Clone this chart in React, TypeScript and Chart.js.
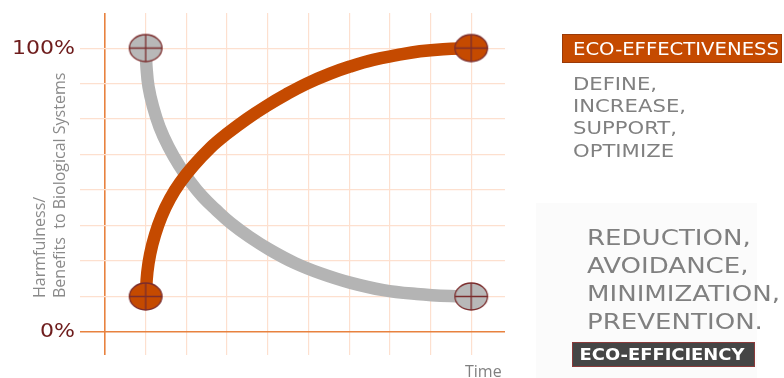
import { useEffect, useRef } from "react";
import { Chart, registerables } from "chart.js";

Chart.register(...registerables);

// Grid positions along the time axis and the level axis
const timeSteps = [0, 1, 2, 3, 4, 5, 6, 7, 8, 9];
const levelSteps = [0, 1, 2, 3, 4, 5, 6, 7, 8];

// Level labels on the vertical axis
const levelLabelValues = [8, 0];
const levelLabelTexts = ["100%", "0%"];

// Eco-effectiveness curve (rising)
const effectivenessX = [1, 1.04, 1.11, 1.23, 1.39, 1.6, 1.84, 2.17, 2.58, 2.99, 3.48, 3.97, 4.46, 4.96, 5.53, 6.02, 6.59, 7.17, 7.74, 8.31, 9];
const effectivenessY = [1, 1.68, 2.2, 2.74, 3.26, 3.76, 4.2, 4.68, 5.18, 5.58, 6.0, 6.37, 6.7, 7.0, 7.28, 7.48, 7.67, 7.8, 7.91, 7.97, 8];

// Eco-efficiency curve (falling)
const efficiencyX = [1, 1.02, 1.07, 1.18, 1.34, 1.56, 1.82, 2.1, 2.4, 2.73, 3.1, 3.55, 4.06, 4.67, 5.3, 6.02, 6.84, 7.66, 8.48, 9];
const efficiencyY = [8, 7.47, 6.91, 6.35, 5.78, 5.22, 4.7, 4.23, 3.81, 3.44, 3.06, 2.68, 2.31, 1.94, 1.65, 1.39, 1.18, 1.07, 1.01, 1];

// End points of each curve
const effectivenessEndX = [1, 9];
const effectivenessEndY = [1, 8];
const efficiencyEndX = [1, 9];
const efficiencyEndY = [8, 1];

// Text
const axisTitleLines = ["Harmfulness/", "Benefits  to Biological Systems"];
const timeTitle = "Time";
const effectivenessTitle = "ECO-EFFECTIVENESS";
const effectivenessVerbs = ["DEFINE,", "INCREASE,", "SUPPORT,", "OPTIMIZE"];
const efficiencyVerbs = ["REDUCTION,", "AVOIDANCE,", "MINIMIZATION,", "PREVENTION."];
const efficiencyTitle = "ECO-EFFICIENCY";

const ORANGE = "#c54a00";
const GREY = "#b4b4b4";
const MARKER_EDGE = "#7b2d2d";
const AXIS = "#e8823f";
const GRID = "#fde0cf";
const TEXT_GREY = "#808080";

function makeMarker(fill: string): HTMLCanvasElement {
  const c = document.createElement("canvas");
  c.width = 36;
  c.height = 31;
  const g = c.getContext("2d")!;
  const cx = 18;
  const cy = 15.5;
  g.beginPath();
  g.ellipse(cx, cy, 16.3, 13.5, 0, 0, Math.PI * 2);
  g.fillStyle = fill;
  g.fill();
  g.lineWidth = 1.3;
  g.strokeStyle = MARKER_EDGE;
  g.stroke();
  g.beginPath();
  g.moveTo(cx - 16.3, cy);
  g.lineTo(cx + 16.3, cy);
  g.moveTo(cx, cy - 13.5);
  g.lineTo(cx, cy + 13.5);
  g.stroke();
  return c;
}

function drawScaled(
  ctx: CanvasRenderingContext2D,
  text: string,
  x: number,
  baseline: number,
  sx: number,
  align: CanvasTextAlign = "left"
) {
  ctx.save();
  ctx.translate(x, baseline);
  ctx.scale(sx, 1);
  ctx.textAlign = align;
  ctx.textBaseline = "alphabetic";
  ctx.fillText(text, 0, 0);
  ctx.restore();
}

const panelPlugin = {
  id: "panel",
  beforeDraw(chart: any) {
    const ctx = chart.ctx as CanvasRenderingContext2D;
    ctx.save();
    ctx.fillStyle = "#fbfbfb";
    ctx.fillRect(536, 203, 221, 175);
    ctx.restore();
  },
};

const textPlugin = {
  id: "texts",
  afterDraw(chart: any) {
    const ctx = chart.ctx as CanvasRenderingContext2D;
    const yScale = chart.scales.y;
    const area = chart.chartArea;
    ctx.save();

    // level labels
    ctx.fillStyle = "#6e1c1c";
    ctx.font = "19px 'DejaVu Sans'";
    const lvlScale = 63 / ctx.measureText(levelLabelTexts[0]).width;
    levelLabelValues.forEach((v, i) => {
      drawScaled(ctx, levelLabelTexts[i], area.left - 5, yScale.getPixelForValue(v) + 5.5, lvlScale, "right");
    });

    // vertical axis title
    ctx.fillStyle = "#8a8a8a";
    ctx.font = "16px 'Open Sans'";
    const baselines = [45, 65];
    axisTitleLines.forEach((line, i) => {
      ctx.save();
      ctx.translate(baselines[i], 298);
      ctx.rotate(-Math.PI / 2);
      ctx.textAlign = "left";
      ctx.textBaseline = "alphabetic";
      ctx.fillText(line, 0, 0);
      ctx.restore();
    });

    // time title
    ctx.fillStyle = TEXT_GREY;
    ctx.font = "16px 'Open Sans'";
    ctx.textAlign = "left";
    ctx.fillText(timeTitle, 465, 377);

    // eco-effectiveness header
    ctx.fillStyle = ORANGE;
    ctx.fillRect(562, 34, 220, 29);
    ctx.strokeStyle = "#9a3a08";
    ctx.lineWidth = 1;
    ctx.strokeRect(562.5, 34.5, 219, 28);
    ctx.fillStyle = "#ffffff";
    ctx.font = "17px 'DejaVu Sans'";
    const hScale = 206 / ctx.measureText(effectivenessTitle).width;
    drawScaled(ctx, effectivenessTitle, 573, 55, hScale);

    // effectiveness verbs
    ctx.fillStyle = TEXT_GREY;
    ctx.font = "17px 'DejaVu Sans'";
    const v1Scale = 113 / ctx.measureText(effectivenessVerbs[1]).width;
    effectivenessVerbs.forEach((t, i) => {
      drawScaled(ctx, t, 573, 90 + i * 22.2, v1Scale);
    });

    // efficiency verbs
    ctx.font = "22px 'DejaVu Sans'";
    const v2Scale = 193 / ctx.measureText(efficiencyVerbs[2]).width;
    efficiencyVerbs.forEach((t, i) => {
      drawScaled(ctx, t, 587, 245 + i * 28.1, v2Scale);
    });

    // eco-efficiency footer
    ctx.fillStyle = "#454545";
    ctx.fillRect(572, 342, 183, 25);
    ctx.strokeStyle = "#8b3a3a";
    ctx.lineWidth = 1;
    ctx.strokeRect(572.5, 342.5, 182, 24);
    ctx.fillStyle = "#ffffff";
    ctx.font = "bold 16px 'DejaVu Sans'";
    const fScale = 165 / ctx.measureText(efficiencyTitle).width;
    drawScaled(ctx, efficiencyTitle, 579.5, 360, fScale);

    ctx.restore();
  },
};

export default function App() {
  const canvasRef = useRef<HTMLCanvasElement | null>(null);

  useEffect(() => {
    const canvas = canvasRef.current;
    if (!canvas) return;

    const toPoints = (xs: number[], ys: number[]) => xs.map((x, i) => ({ x, y: ys[i] }));
    const orangeMarker = makeMarker(ORANGE);
    const greyMarker = makeMarker("#b8b8b8");

    const gridColor = (c: any) => (c.tick && c.tick.value === 0 ? AXIS : GRID);
    const gridWidth = (c: any) => (c.tick && c.tick.value === 0 ? 1.6 : 1.2);

    const chart = new Chart(canvas, {
      type: "line",
      data: {
        datasets: [
          {
            data: toPoints(effectivenessEndX, effectivenessEndY),
            showLine: false,
            pointStyle: orangeMarker as any,
            pointRadius: 10,
          },
          {
            data: toPoints(efficiencyEndX, efficiencyEndY),
            showLine: false,
            pointStyle: greyMarker as any,
            pointRadius: 10,
          },
          {
            data: toPoints(effectivenessX, effectivenessY),
            borderColor: ORANGE,
            borderWidth: 12.5,
            pointRadius: 0,
            tension: 0.4,
            fill: false,
          },
          {
            data: toPoints(efficiencyX, efficiencyY),
            borderColor: GREY,
            borderWidth: 12.5,
            pointRadius: 0,
            tension: 0.4,
            fill: false,
          },
        ],
      },
      options: {
        animation: false,
        responsive: false,
        maintainAspectRatio: false,
        layout: { padding: { left: 80, right: 279, top: 13, bottom: 23 } },
        plugins: {
          legend: { display: false },
          tooltip: { enabled: false },
        },
        scales: {
          x: {
            type: "linear",
            min: -0.614,
            max: 9.83,
            border: { display: false },
            ticks: { display: false },
            grid: { drawTicks: false, color: gridColor, lineWidth: gridWidth },
            afterBuildTicks: (s: any) => {
              s.ticks = timeSteps.map((v) => ({ value: v }));
            },
          },
          y: {
            type: "linear",
            min: -0.65,
            max: 8.99,
            border: { display: false },
            ticks: { display: false },
            grid: { drawTicks: false, color: gridColor, lineWidth: gridWidth },
            afterBuildTicks: (s: any) => {
              s.ticks = levelSteps.map((v) => ({ value: v }));
            },
          },
        },
      },
      plugins: [panelPlugin, textPlugin],
    });

    return () => chart.destroy();
  }, []);

  return (
    <div style={{ position: "fixed", left: 0, top: 0, width: 784, height: 378, background: "#ffffff" }}>
      <canvas ref={canvasRef} width={784} height={378} style={{ display: "block" }} />
    </div>
  );
}
